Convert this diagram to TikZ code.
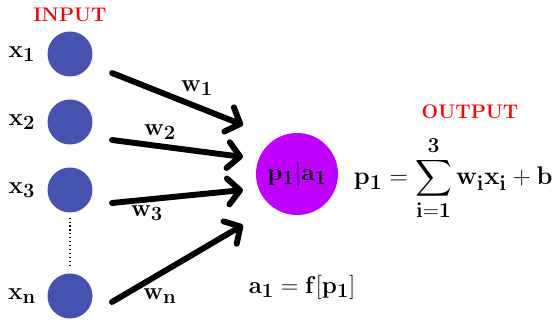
\documentclass[tikz,border=0pt]{standalone}
\usepackage{amsmath}
\definecolor{NeuronBlue}  {RGB}{70,82,176}
\definecolor{NeuronPurple}{RGB}{191,0,255}
\usetikzlibrary{arrows.meta,positioning,calc}

\begin{document}
\begin{tikzpicture}[every node/.style={font=\fontsize{19}{22}\selectfont},
    inp/.style={circle,fill=NeuronBlue,minimum size=1.125cm,inner sep=0pt},
    wire/.style={line width=4.2pt,line cap=round,
                 -{Straight Barb[length=3mm,width=6.5mm,round]}},
    tag/.style={text=red,inner sep=1pt,font=\fontsize{14}{16}\selectfont\bfseries}]
  \useasboundingbox (0,0) rectangle (14,8);
  \node[tag] (inlabel) at (1.75,7.625) {INPUT};
  \foreach \n/\y/\s in {1/6.65/1,2/4.95/2,3/3.25/3,n/0.6/n}{
    \node[inp] (x\n) at (1.75,\y) {};
    \node (lx\n) at (0.55,\y) {$\mathbf{x_{\s}}$};
  }
  \draw[dotted,thick] (x3.south) ++(0,-0.12) coordinate (dtop)
    (xn.north) ++(0,0.12) coordinate (dbot);
  \draw[dotted,thick] (dtop) -- (dbot);

  \node[circle,fill=NeuronPurple,minimum size=2.05cm,inner sep=0pt]
    (p) at (7.425,3.65) {$\mathbf{p_1|a_1}$};

  % wires from the inputs
  \foreach \n/\ya/\yb in {1/6.175/4.875,2/4.5/4.075,3/2.925/3.25,n/0.45/2.375}{
    \coordinate (s\n) at (2.8,\ya);
    \coordinate (e\n) at (6.075,\yb);
    \draw[wire] (s\n) -- (e\n);
  }
  \node (w1) at (4.925,5.8) {$\mathbf{w_1}$};
  \node (w2) at (4.0,4.7) {$\mathbf{w_2}$};
  \node (w3) at (3.675,2.675) {$\mathbf{w_3}$};
  \node (wn) at (4.0,0.6) {$\mathbf{w_n}$};

  \node[tag] (outlabel) at (11.75,5.2) {OUTPUT};
  \node[inner sep=0pt,scale=1.05] (sum) at (11.33,3.55)
    {$\displaystyle\mathbf{p_1}=\sum_{\mathbf{i=1}}^{\mathbf{3}}\mathbf{w_i x_i}+\mathbf{b}$};
  \node (act) at (7.55,0.825) {$\mathbf{a_1}=\mathbf{f[p_1]}$};
\end{tikzpicture}
\end{document}
